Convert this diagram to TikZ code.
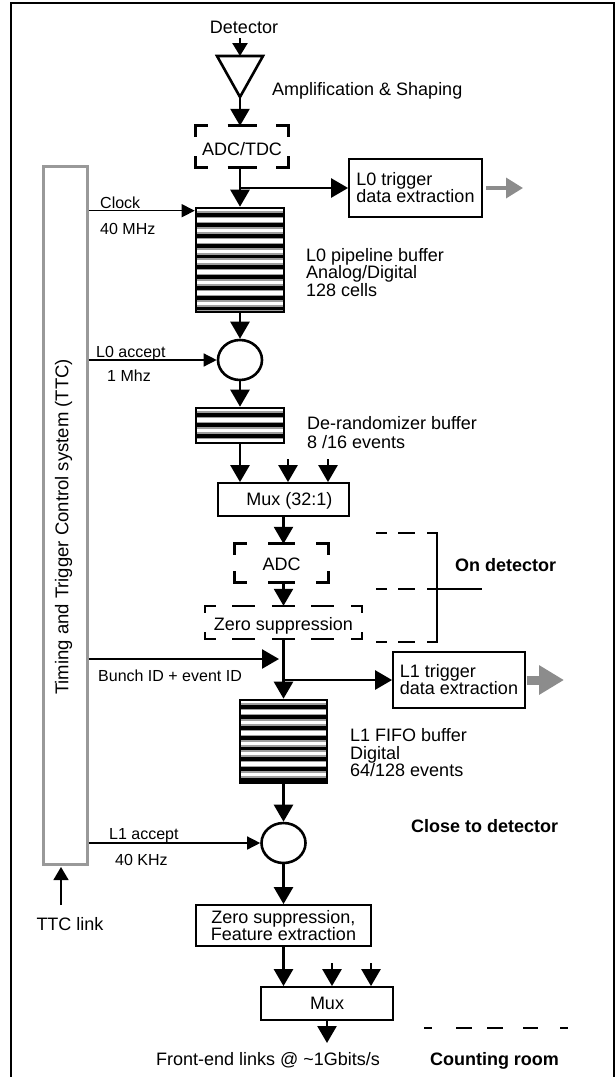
\documentclass[tikz,border=0pt]{standalone}
\usepackage{fontspec}
\setmainfont{Liberation Sans}
\usetikzlibrary{arrows.meta,calc,shapes.geometric}
\definecolor{ttcgray}{gray}{0.6}
\definecolor{arrowgray}{gray}{0.55}
\definecolor{stripegray}{gray}{0.62}
\tikzset{
  lbl/.style={inner sep=0pt, font=\fontsize{18}{17}\selectfont},
  sml/.style={inner sep=0pt, font=\fontsize{16}{16}\selectfont},
  bld/.style={inner sep=0pt, font=\bfseries\fontsize{18}{17}\selectfont},
  capc/.style={text height=12.9pt, text depth=0pt},
  wire/.style={line width=2.6pt},
  bigarrow/.style={wire, -{Triangle[width=19pt,length=17pt]}},
  detarrow/.style={wire, -{Triangle[width=15pt,length=13pt]}},
  thinarrow/.style={line width=1.4pt, -{Triangle[width=13pt,length=13pt]}},
  linkarrow/.style={line width=1.4pt, -{Triangle[width=15pt,length=13pt]}},
  grayarrow/.style={draw=arrowgray, line width=3.5pt, -{Triangle[width=20pt,length=17pt]}},
  fatgrayarrow/.style={draw=arrowgray, line width=9pt, -{Triangle[width=28pt,length=25pt]}},
  plainbox/.style={lbl, draw, line width=1.8pt},
  cornerbox/.style={lbl},
  brk/.style={line width=3pt, line join=miter},
  zsline/.style={line width=1.6pt, line join=miter},
  bracketline/.style={line width=1.8pt},
  bufbox/.style={draw, line width=2.6pt, inner sep=0pt, fill=white,
    path picture={
      \foreach \k in {0,...,12}{
        \fill[stripegray] ($(path picture bounding box.north west)+(0,\k*10.4+3.3)$) rectangle ($(path picture bounding box.north east)+(0,\k*10.4+10.4)$);
        \fill[black] ($(path picture bounding box.north west)+(0,\k*10.4+5)$) rectangle ($(path picture bounding box.north east)+(0,\k*10.4+8.7)$);
      }
    }},
  gate/.style={ellipse, draw, line width=2.6pt, minimum width=44pt, minimum height=40pt, inner sep=0pt},
  ttcbox/.style={draw=ttcgray, line width=3pt, minimum width=44pt, minimum height=698pt, inner sep=0pt},
}
\newcommand\brkbox[4]{%
  \draw[brk] ($(#1.north west)+(#2,0)$) -- (#1.north west) -- ($(#1.north west)+(0,#3)$);
  \draw[brk] ($(#1.north east)+(-#2,0)$) -- (#1.north east) -- ($(#1.north east)+(0,#3)$);
  \draw[brk] ($(#1.south west)+(#2,0)$) -- (#1.south west) -- ($(#1.south west)+(0,-#3)$);
  \draw[brk] ($(#1.south east)+(-#2,0)$) -- (#1.south east) -- ($(#1.south east)+(0,-#3)$);
  \draw[brk] ($(#1.north)+(-#4,0)$) -- ($(#1.north)+(#4,0)$);
  \draw[brk] ($(#1.south)+(-#4,0)$) -- ($(#1.south)+(#4,0)$);
}
\begin{document}
\begin{tikzpicture}[x=1pt,y=-1pt]
\useasboundingbox (0,0) rectangle (616,1077);

% frame
\draw[line width=2.2pt] (10.7,1077) -- (10.7,2.8) -- (614.2,2.8) -- (614.2,1077);

% detector and amplifier
\node[lbl, anchor=base] (det) at (244,33.5) {Detector};
\coordinate (detin) at (240,38);
\coordinate (ampin) at (240,56);
\coordinate (ampout) at (240,97);
\draw[wire, line join=miter] (217,56) -- (263,56) -- (ampout) -- cycle;
\draw[detarrow] (detin) -- (ampin);
\node[lbl, anchor=base west] (ampl) at (272,95) {Amplification \& Shaping};

% ADC/TDC
\node[cornerbox, capc, minimum width=92pt, minimum height=41pt] (adctdc) at (242,146.5) {\raisebox{-3pt}{ADC/TDC}};
\brkbox{adctdc}{12}{11}{14.5}
\draw[bigarrow] (ampout) -- (ampout |- adctdc.north);

% L0 pipeline
\node[bufbox, minimum width=88pt, minimum height=104pt] (l0buf) at (240,260) {};
\draw[bigarrow] (ampout |- adctdc.south) -- (l0buf.north);
\coordinate (br0) at (240,188);
\node[plainbox, minimum width=133pt, minimum height=58pt, align=left] (l0trig) at (415.5,188) {L0 trigger\\data extraction};
\draw[bigarrow] (br0) -- (br0 -| l0trig.west);
\coordinate (g0) at (523,188);
\draw[grayarrow] ($(l0trig.east)+(3.5,0)$) -- (g0);
\node[lbl, anchor=west, align=left, font=\fontsize{18}{15.5}\selectfont] (l0lbl) at (306,272.5) {L0 pipeline buffer\\Analog/Digital\\128 cells};

% TTC
\node[ttcbox] (ttc) at (65,515) {};
\node[lbl, rotate=90, font=\fontsize{18.5}{18}\selectfont] (ttclbl) at (63.5,527) {Timing and Trigger Control system (TTC)};

% clock
\coordinate (clkend) at ($(l0buf.north west)+(0,4)$);
\draw[thinarrow] (ttc.east |- clkend) -- (clkend);
\node[sml, anchor=base west] (clk) at (100,208) {Clock};
\node[sml, anchor=base west] (clkf) at (100,234) {40 MHz};

% L0 accept
\node[gate] (c0) at (240,360) {};
\draw[bigarrow] (l0buf.south) -- (c0.north);
\draw[thinarrow] (ttc.east |- c0.west) -- (c0.west);
\node[sml, anchor=base west] (l0acc) at (96,357) {L0 accept};
\node[sml, anchor=base west] (l0f) at (107,381) {1 Mhz};

% de-randomizer
\node[bufbox, minimum width=88pt, minimum height=35pt] (derand) at (240,425.5) {};
\draw[bigarrow] (c0.south) -- (derand.north);
\node[lbl, anchor=west, align=left, font=\fontsize{18}{19}\selectfont] (derlbl) at (307,433) {De-randomizer buffer\\8 /16 events};

% Mux 32:1
\node[plainbox, capc, minimum width=131pt, minimum height=33pt] (mux) at (283.5,499.5) {\hspace*{12pt}Mux (32:1)};
\draw[bigarrow] (derand.south) -- (derand.south |- mux.north);
\coordinate (mx1) at (288,459);
\coordinate (mx2) at (328,459);
\draw[bigarrow] (mx1) -- (mx1 |- mux.north);
\draw[bigarrow] (mx2) -- (mx2 |- mux.north);

% ADC
\node[cornerbox, capc, minimum width=93pt, minimum height=38pt] (adc) at (281.5,563) {\raisebox{-1.5pt}{ADC}};
\brkbox{adc}{12}{11}{13.5}
\draw[bigarrow] (mux.south) -- (mux.south |- adc.north);

% Zero suppression (dashed)
\node[cornerbox, capc, minimum width=157pt, minimum height=33pt] (zs) at (283.5,622.5) {\raisebox{-2pt}{Zero suppression}};
\draw[zsline] ($(zs.north west)+(11,0)$) -- (zs.north west) -- ($(zs.north west)+(0,7)$);
\draw[zsline] ($(zs.north east)+(-11,0)$) -- (zs.north east) -- ($(zs.north east)+(0,7)$);
\draw[zsline] ($(zs.south west)+(11,0)$) -- (zs.south west) -- ($(zs.south west)+(0,-7)$);
\draw[zsline] ($(zs.south east)+(-11,0)$) -- (zs.south east) -- ($(zs.south east)+(0,-7)$);
\draw[zsline, dash pattern=on 23pt off 16.5pt] ($(zs.north west)+(27.5,0)$) -- ($(zs.north east)+(-27.5,0)$);
\draw[zsline, dash pattern=on 23pt off 16.5pt] ($(zs.south west)+(27.5,0)$) -- ($(zs.south east)+(-27.5,0)$);
\draw[bigarrow] (mux.south |- adc.south) -- (mux.south |- zs.north);

% On detector bracket
\draw[bracketline] (376,533) -- (387,533) (398,533) -- (415,533);
\draw[bracketline] (376,642) -- (387,642) (398,642) -- (415,642);
\draw[bracketline] (376,589) -- (387,589) (398,589) -- (415,589);
\draw[bracketline, line join=miter] (427,533) -- (437,533) -- (437,642) -- (427,642);
\draw[bracketline] (427,589) -- (482,589);
\node[bld, anchor=base west] (ondet) at (455,571) {On detector};

% Bunch ID
\coordinate (bunchend) at (279,659);
\draw[bigarrow] (ttc.east |- bunchend) -- (bunchend);
\node[sml, anchor=base west] (bunchlbl) at (98,681) {Bunch ID + event ID};

% L1 FIFO
\node[bufbox, minimum width=87pt, minimum height=83pt] (fifo) at (283.5,741.5) {};
\draw[bigarrow] (zs.south) -- (fifo.north);
\coordinate (br1) at (283.5,680);
\node[plainbox, minimum width=132pt, minimum height=56pt, align=left] (l1trig) at (459,680) {L1 trigger\\data extraction};
\draw[bigarrow] (br1) -- (br1 -| l1trig.west);
\coordinate (g1) at (564,680);
\draw[fatgrayarrow] ($(l1trig.east)+(1,0)$) -- (g1);
\node[lbl, anchor=west, align=left, font=\fontsize{18}{17.5}\selectfont] (fifolbl) at (350,753) {L1 FIFO buffer\\Digital\\64/128 events};

% L1 accept
\node[gate] (c1) at (283.5,843) {};
\draw[bigarrow] (fifo.south) -- (c1.north);
\draw[thinarrow] (ttc.east |- c1.west) -- (c1.west);
\node[sml, anchor=base west] (l1acc) at (109,839) {L1 accept};
\node[sml, anchor=base west] (l1f) at (115,865) {40 KHz};
\node[bld, anchor=base west] (close) at (411,832) {Close to detector};

% TTC link
\coordinate (ttclink) at (61,905);
\draw[linkarrow] (ttclink) -- ($(ttclink |- ttc.south)+(0,1.5)$);
\node[lbl, anchor=base] (ttclinklbl) at (70,930) {TTC link};

% Zero suppression, feature extraction
\node[plainbox, minimum width=174.5pt, minimum height=41pt, align=center] (zsfe) at (283.5,925.5) {Zero suppression,\\Feature extraction};
\draw[bigarrow] (c1.south) -- (zsfe.north);

% Mux
\node[plainbox, capc, minimum width=132pt, minimum height=33pt] (mux2) at (327,1003.5) {Mux};
\draw[bigarrow] (zsfe.south) -- (zsfe.south |- mux2.north);
\coordinate (my1) at (332,963);
\coordinate (my2) at (371,963);
\draw[bigarrow] (my1) -- (my1 |- mux2.north);
\draw[bigarrow] (my2) -- (my2 |- mux2.north);
\coordinate (fe) at (327,1043);
\draw[bigarrow] (mux2.south) -- (fe);
\node[lbl, anchor=base] (felbl) at (268,1065) {Front-end links @ \textasciitilde 1Gbits/s};

% counting room
\draw[line width=2pt] (424,1028) -- (432,1028) (456,1028) -- (472,1028) (487,1028) -- (503,1028) (523,1028) -- (538,1028) (560,1028) -- (568,1028);
\node[bld, anchor=base] (cntroom) at (494.5,1065) {Counting room};
\end{tikzpicture}
\end{document}
